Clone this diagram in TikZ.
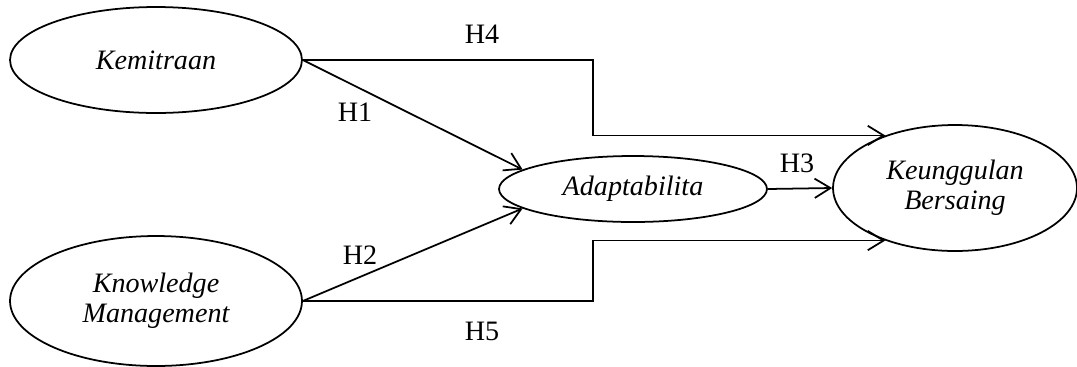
\documentclass[tikz,border=0pt]{standalone}
\usepackage{fontspec}
\setmainfont{Liberation Serif}
\usetikzlibrary{shapes.geometric,arrows.meta}

\begin{document}
\begin{tikzpicture}[x=0.02cm,y=-0.02cm,
    font=\fontsize{16}{17}\selectfont,
    >={Straight Barb[length=9pt,width=11pt]},
    konstruk/.style={draw, ellipse, inner sep=0pt, line width=1pt, font=\fontsize{16}{17}\selectfont\itshape, align=center},
    jalur/.style={->, line width=1pt}]

    \useasboundingbox (0,0) rectangle (1077,366);

    \node[konstruk, minimum width=5.84cm, minimum height=2.12cm] (kem) at (156,60) {Kemitraan};
    \node[konstruk, minimum width=5.84cm, minimum height=2.6cm] (km) at (156,301) {Knowledge\\Management};
    \node[konstruk, minimum width=5.36cm, minimum height=1.32cm] (ada) at (633,189) {Adaptabilita};
    \node[konstruk, minimum width=4.88cm, minimum height=2.52cm] (kb) at (955,188) {Keunggulan\\Bersaing};

    \coordinate (belok) at (593,0);

    \draw[jalur] (kem.east) -- (kem.east -| belok) |- (kb.143);
    \draw[jalur] (km.east) -- (km.east -| belok) |- (kb.217);
    \draw[jalur] (kem.east) -- (ada.170);
    \draw[jalur] (km.east) -- (ada.190);
    \draw[jalur] (ada.east) -- (kb.west);

    \node (h4) at (482,34) {H4};
    \node (h1) at (355,112) {H1};
    \node (h2) at (360,255) {H2};
    \node (h5) at (482,331) {H5};
    \node (h3) at (797,163) {H3};
\end{tikzpicture}
\end{document}
